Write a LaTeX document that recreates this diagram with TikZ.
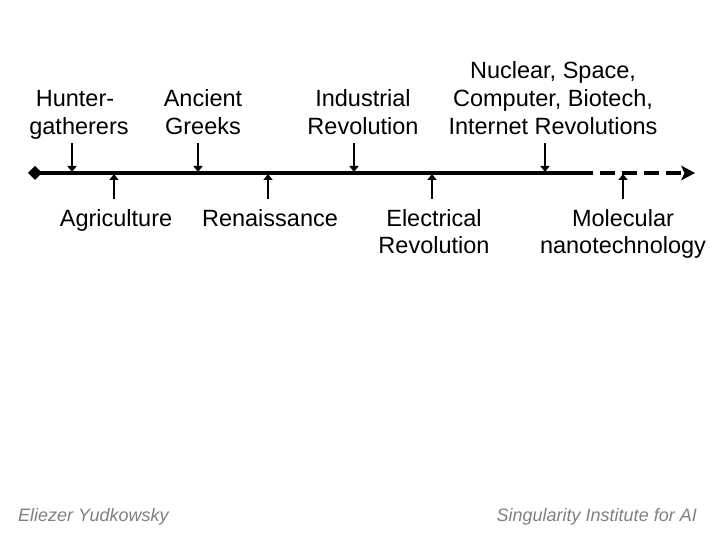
\documentclass[tikz,border=0pt]{standalone}
\usepackage{fontspec}
\setmainfont{Liberation Sans}
\usetikzlibrary{arrows.meta}
\begin{document}
\begin{tikzpicture}[x=1pt,y=-1pt,
  lbl/.style={align=center,inner sep=0pt,anchor=base,font=\fontsize{23.5}{28}\selectfont},
  foot/.style={inner sep=0pt,anchor=base west,text=black!50,font=\fontsize{18}{21}\selectfont\itshape},
  tick/.style={line width=2pt,-{Triangle[length=6pt,width=9pt]}},
  axis/.style={line width=4pt}]
\useasboundingbox (0,0) rectangle (720,540);
% labels above (base = last line)
\node[lbl] (hg) at (79,135) {Hunter-\hspace*{8pt}\\gatherers};
\node[lbl] (ag) at (203,135) {Ancient\\Greeks};
\node[lbl] (ir) at (363,135) {Industrial\\Revolution};
\node[lbl] (nu) at (553,135) {Nuclear, Space,\\Computer, Biotech,\\Internet Revolutions};
% labels below
\node[lbl] (agr) at (116,226) {Agriculture};
\node[lbl] (ren) at (270,226) {Renaissance};
\node[lbl] (el) at (434,254) {Electrical\\Revolution};
\node[lbl] (mol) at (623,254) {Molecular\\nanotechnology};
% axis
\coordinate (start) at (35,173);
\coordinate (solidend) at (593,173);
\coordinate (end) at (695,173);
\fill (start) +(-7,0) -- +(0,-7) -- +(7,0) -- +(0,7) -- cycle;
\draw[axis] (start) -- (solidend);
\draw[line width=4pt,dash pattern=on 15pt off 7pt,dash phase=15pt] (solidend) -- (681,173);
\fill (end) -- (681,165.5) -- (684.5,173) -- (681,180.5) -- cycle;
% down ticks
\foreach \n/\x in {a/72,b/198,c/354,d/545}{
  \coordinate (d\n top) at (\x,143);
  \coordinate (d\n bot) at (\x,172);
  \draw[tick] (d\n top) -- (d\n bot);
}
% up ticks
\foreach \n/\x in {a/114,b/268,c/432,d/623}{
  \coordinate (u\n bot) at (\x,199);
  \coordinate (u\n top) at (\x,174);
  \draw[tick] (u\n bot) -- (u\n top);
}
% footer
\node[foot] (fl) at (18,521) {Eliezer Yudkowsky};
\node[foot,anchor=base east] (fr) at (697,521) {Singularity Institute for AI};
\end{tikzpicture}
\end{document}
